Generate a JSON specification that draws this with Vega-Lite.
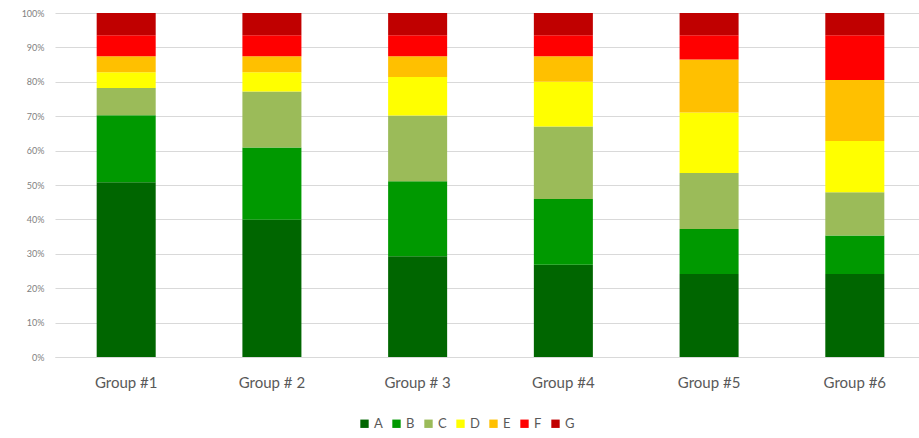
{
  "$schema": "https://vega.github.io/schema/vega-lite/v6.json",
  "autosize": "none",
  "padding": {"left": 55, "top": 13, "right": 0, "bottom": 81},
  "width": 871,
  "height": 344,
  "background": "white",
  "config": {"view": {"stroke": null}, "font": "Lato"},
  "data": {"values": [
    {"group": "Group #1", "cat": "A", "v": 50.8}, {"group": "Group #1", "cat": "B", "v": 19.5}, {"group": "Group #1", "cat": "C", "v": 7.9}, {"group": "Group #1", "cat": "D", "v": 4.6}, {"group": "Group #1", "cat": "E", "v": 4.6}, {"group": "Group #1", "cat": "F", "v": 6.1}, {"group": "Group #1", "cat": "G", "v": 6.5},
    {"group": "Group # 2", "cat": "A", "v": 39.9}, {"group": "Group # 2", "cat": "B", "v": 21.0}, {"group": "Group # 2", "cat": "C", "v": 16.3}, {"group": "Group # 2", "cat": "D", "v": 5.6}, {"group": "Group # 2", "cat": "E", "v": 4.6}, {"group": "Group # 2", "cat": "F", "v": 6.1}, {"group": "Group # 2", "cat": "G", "v": 6.5},
    {"group": "Group # 3", "cat": "A", "v": 29.3}, {"group": "Group # 3", "cat": "B", "v": 21.8}, {"group": "Group # 3", "cat": "C", "v": 19.1}, {"group": "Group # 3", "cat": "D", "v": 11.2}, {"group": "Group # 3", "cat": "E", "v": 6.0}, {"group": "Group # 3", "cat": "F", "v": 6.1}, {"group": "Group # 3", "cat": "G", "v": 6.5},
    {"group": "Group #4", "cat": "A", "v": 26.8}, {"group": "Group #4", "cat": "B", "v": 19.1}, {"group": "Group #4", "cat": "C", "v": 21.1}, {"group": "Group #4", "cat": "D", "v": 13.0}, {"group": "Group #4", "cat": "E", "v": 7.4}, {"group": "Group #4", "cat": "F", "v": 6.1}, {"group": "Group #4", "cat": "G", "v": 6.5},
    {"group": "Group #5", "cat": "A", "v": 24.1}, {"group": "Group #5", "cat": "B", "v": 13.1}, {"group": "Group #5", "cat": "C", "v": 16.3}, {"group": "Group #5", "cat": "D", "v": 17.6}, {"group": "Group #5", "cat": "E", "v": 15.4}, {"group": "Group #5", "cat": "F", "v": 7.0}, {"group": "Group #5", "cat": "G", "v": 6.5},
    {"group": "Group #6", "cat": "A", "v": 24.1}, {"group": "Group #6", "cat": "B", "v": 11.2}, {"group": "Group #6", "cat": "C", "v": 12.6}, {"group": "Group #6", "cat": "D", "v": 14.9}, {"group": "Group #6", "cat": "E", "v": 17.7}, {"group": "Group #6", "cat": "F", "v": 13.0}, {"group": "Group #6", "cat": "G", "v": 6.5}
  ]},
  "mark": {"type": "bar"},
  "encoding": {
    "x": {
      "field": "group", "type": "nominal", "sort": null,
      "scale": {"paddingInner": 0.595, "paddingOuter": 0.286},
      "axis": {"title": null, "labelAngle": 0, "labelFontSize": 15, "labelColor": "#595959", "labelPadding": 18, "ticks": false, "domain": true, "domainColor": "#d9d9d9", "grid": false}
    },
    "y": {
      "field": "v", "type": "quantitative", "stack": "normalize",
      "scale": {"domain": [0, 1], "nice": false},
      "axis": {"title": null, "format": ".0%", "values": [0, 0.1, 0.2, 0.3, 0.4, 0.5, 0.6, 0.7, 0.8, 0.9, 1], "labelFontSize": 9, "labelColor": "#7f7f7f", "labelPadding": 11, "ticks": false, "domain": false, "gridColor": "#d9d9d9"}
    },
    "color": {
      "field": "cat", "type": "nominal",
      "scale": {"domain": ["A", "B", "C", "D", "E", "F", "G"], "range": ["#006600", "#009900", "#9BBB59", "#FFFF00", "#FFC000", "#FF0000", "#C00000"]},
      "legend": {"title": null, "orient": "none", "direction": "horizontal", "legendX": 303, "legendY": 404, "symbolType": "square", "symbolSize": 70, "symbolStrokeWidth": 0, "labelFontSize": 13, "labelColor": "#595959", "columnPadding": 7, "labelOffset": 3}
    },
    "order": {"field": "cat", "sort": "ascending"}
  }
}
